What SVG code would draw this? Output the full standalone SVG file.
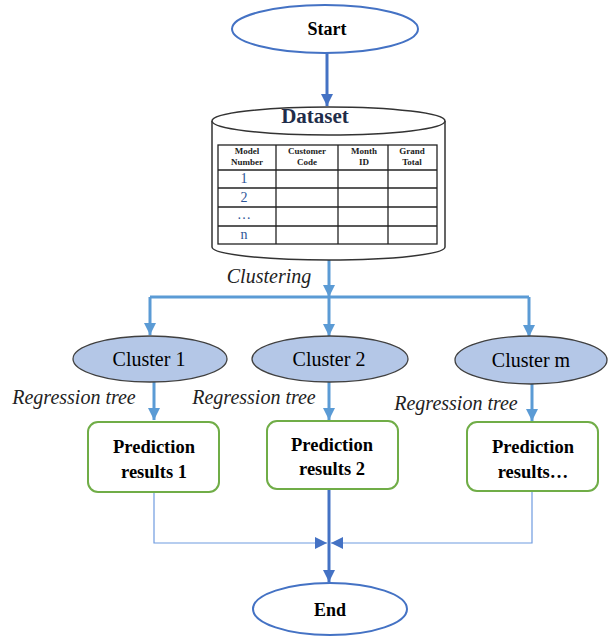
<svg xmlns="http://www.w3.org/2000/svg" width="608" height="636" viewBox="0 0 608 636">
<style>
  text { font-family: "Liberation Serif", "Times New Roman", "DejaVu Serif", serif; }
  .term { fill: #ffffff; stroke: #4472c4; stroke-width: 2; }
  .term-t { font-weight: bold; font-size: 18px; fill: #000; text-anchor: middle; }
  .clu { fill: #b4c7e7; stroke: #404040; stroke-width: 1.3; }
  .clu-t { font-size: 20px; fill: #000; text-anchor: middle; }
  .box { fill: #ffffff; stroke: #70ad47; stroke-width: 2; }
  .box-t { font-weight: bold; font-size: 18.5px; fill: #000; text-anchor: middle; }
  .lbl { font-style: italic; font-size: 20px; fill: #222; text-anchor: middle; }
  .cyl { fill: #ffffff; stroke: #333333; stroke-width: 1.5; }
  .tbl { fill: none; stroke: #222; stroke-width: 1.3; }
  .th { font-weight: bold; font-size: 9px; fill: #222; text-anchor: middle; }
  .td { font-size: 14px; fill: #2f5597; text-anchor: middle; }
  .thick { fill: none; stroke: #5b9bd5; stroke-width: 3; }
  .thickd { fill: none; stroke: #4472c4; stroke-width: 3; }
  .thin { fill: none; stroke: #6f9be0; stroke-width: 1.2; }
</style>
<defs>
  <marker id="ah" markerUnits="userSpaceOnUse" markerWidth="12" markerHeight="12" refX="10" refY="5" orient="auto" viewBox="0 0 10 10">
    <path d="M0,0 L10,5 L0,10 z" fill="#5b9bd5"/>
  </marker>
  <marker id="ahd" markerUnits="userSpaceOnUse" markerWidth="12" markerHeight="12" refX="10" refY="5" orient="auto" viewBox="0 0 10 10">
    <path d="M0,0 L10,5 L0,10 z" fill="#4472c4"/>
  </marker>
</defs>

<g id="connectors">
  <path class="thickd" d="M327,53 L327,106" marker-end="url(#ahd)"/>
  <path class="thick" d="M329,260 L329,297" marker-end="url(#ah)"/>
  <path class="thick" d="M150,297 L529,297"/>
  <path class="thick" d="M150,297 L150,335" marker-end="url(#ah)"/>
  <path class="thick" d="M329,297 L329,336" marker-end="url(#ah)"/>
  <path class="thick" d="M529,297 L529,337" marker-end="url(#ah)"/>
  <path class="thick" d="M154,382 L154,420" marker-end="url(#ah)"/>
  <path class="thick" d="M329,382 L329,420" marker-end="url(#ah)"/>
  <path class="thick" d="M532,383 L532,421" marker-end="url(#ah)"/>
  <path class="thin" d="M154,492 L154,543 L327,543" marker-end="url(#ahd)"/>
  <path class="thin" d="M532,491 L532,543 L331,543" marker-end="url(#ahd)"/>
  <path class="thickd" d="M329,489 L329,582" marker-end="url(#ahd)"/>
  <text class="lbl" x="269" y="283">Clustering</text>
  <text class="lbl" x="74" y="404">Regression tree</text>
  <text class="lbl" x="254" y="404">Regression tree</text>
  <text class="lbl" x="456" y="410">Regression tree</text>
</g>

<g id="start">
  <ellipse class="term" cx="325" cy="29" rx="93" ry="24"/>
  <text class="term-t" x="327" y="35">Start</text>
</g>

<g id="dataset">
  <path class="cyl" d="M212,121 L212,247 A116.5,13 0 0 0 445,247 L445,121"/>
  <ellipse class="cyl" cx="328.5" cy="121" rx="116.5" ry="14"/>
  <text x="315" y="123" text-anchor="middle" font-weight="bold" font-size="21" fill="#1f2d4a">Dataset</text>
  <rect class="tbl" x="218" y="145" width="219" height="99"/>
  <line class="tbl" x1="218" y1="170" x2="437" y2="170"/>
  <line class="tbl" x1="218" y1="188" x2="437" y2="188"/>
  <line class="tbl" x1="218" y1="207" x2="437" y2="207"/>
  <line class="tbl" x1="218" y1="226" x2="437" y2="226"/>
  <line class="tbl" x1="276" y1="145" x2="276" y2="244"/>
  <line class="tbl" x1="338" y1="145" x2="338" y2="244"/>
  <line class="tbl" x1="388" y1="145" x2="388" y2="244"/>
  <text class="th" x="247" y="154">Model</text>
  <text class="th" x="247" y="164.5">Number</text>
  <text class="th" x="307" y="154">Customer</text>
  <text class="th" x="307" y="164.5">Code</text>
  <text class="th" x="364" y="154">Month</text>
  <text class="th" x="364" y="164.5">ID</text>
  <text class="th" x="412" y="154">Grand</text>
  <text class="th" x="412" y="164.5">Total</text>
  <text class="td" x="244" y="183">1</text>
  <text class="td" x="244" y="202">2</text>
  <text class="td" x="244" y="219">…</text>
  <text class="td" x="244" y="239">n</text>
</g>

<g id="cluster1">
  <ellipse class="clu" cx="150" cy="359" rx="77" ry="23"/>
  <text class="clu-t" x="149" y="366">Cluster 1</text>
</g>
<g id="cluster2">
  <ellipse class="clu" cx="330" cy="359" rx="78" ry="23"/>
  <text class="clu-t" x="329" y="366">Cluster 2</text>
</g>
<g id="clusterm">
  <ellipse class="clu" cx="531" cy="360" rx="76" ry="24"/>
  <text class="clu-t" x="531" y="367">Cluster m</text>
</g>

<g id="pred1">
  <rect class="box" x="88" y="422" width="131" height="70" rx="10"/>
  <text class="box-t" x="154" y="453">Prediction</text>
  <text class="box-t" x="154" y="478">results 1</text>
</g>
<g id="pred2">
  <rect class="box" x="267" y="421" width="131" height="68" rx="10"/>
  <text class="box-t" x="332" y="451">Prediction</text>
  <text class="box-t" x="332" y="475">results 2</text>
</g>
<g id="predm">
  <rect class="box" x="467" y="422" width="131" height="69" rx="10"/>
  <text class="box-t" x="533" y="453">Prediction</text>
  <text class="box-t" x="533" y="478">results…</text>
</g>

<g id="end">
  <ellipse class="term" cx="330" cy="609" rx="77" ry="26"/>
  <text class="term-t" x="330" y="616">End</text>
</g>
</svg>
